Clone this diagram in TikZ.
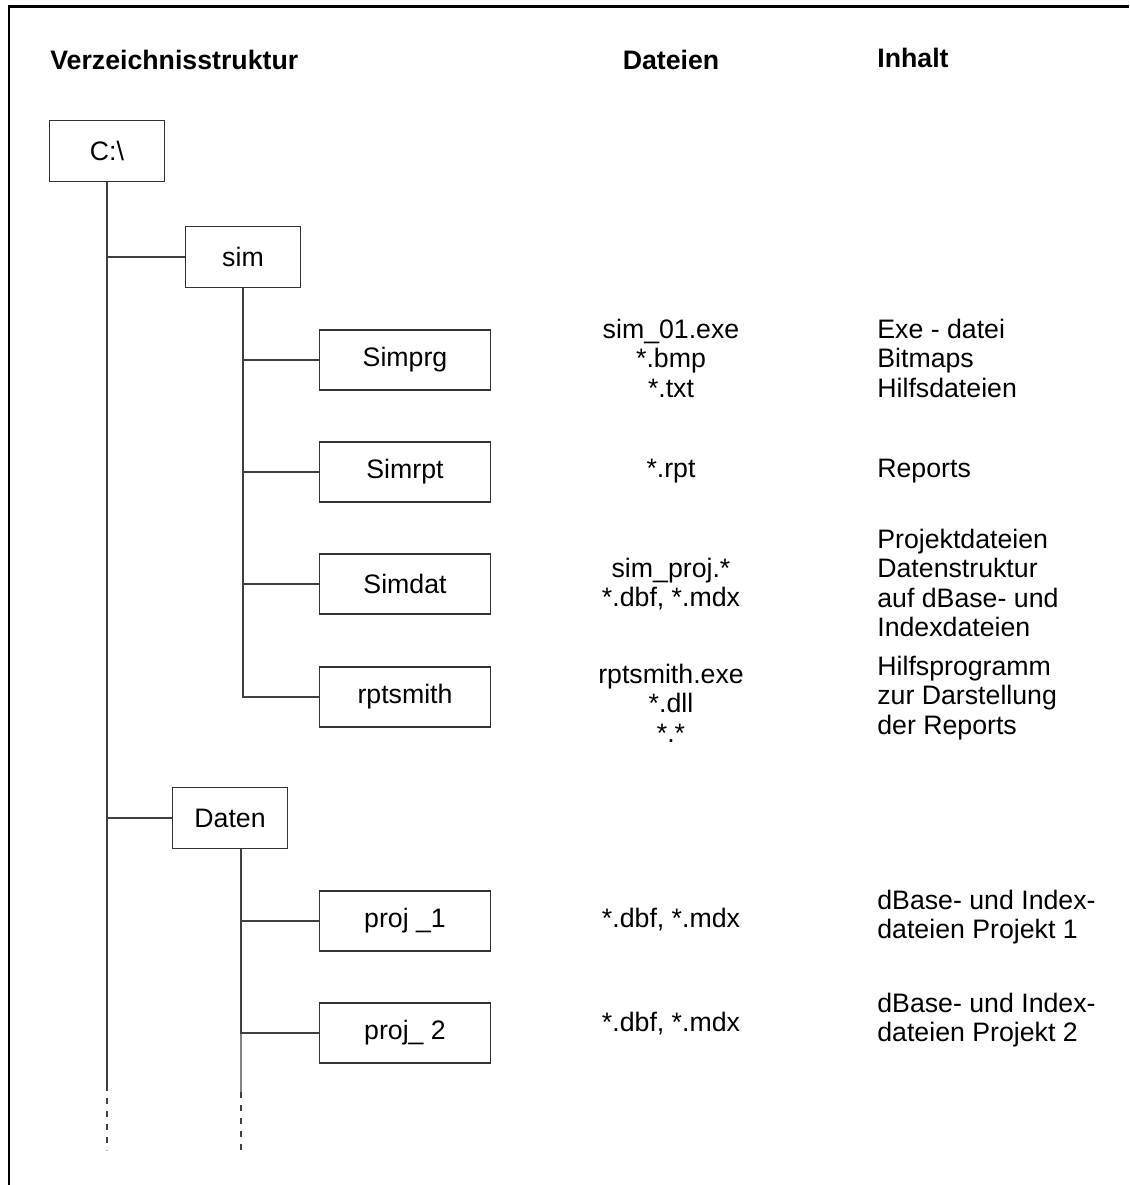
\documentclass[tikz,border=0pt]{standalone}
\usepackage{fontspec}
\setmainfont{Liberation Sans}
\usepackage{tikz}
\usetikzlibrary{positioning,calc}

\begin{document}
\begin{tikzpicture}[
  x=0.02cm, y=-0.02cm,
  dbox/.style={rectangle, draw=black!80, line width=0.6pt,
               minimum width=2.3cm, minimum height=1.22cm,
               font=\fontsize{15.2}{16.8}\selectfont, align=center},
  sbox/.style={dbox, minimum width=3.42cm, minimum height=1.2cm},
  hdr/.style={inner sep=0pt, font=\fontsize{15.2}{16.8}\selectfont\bfseries},
  ftxt/.style={inner sep=0pt, font=\fontsize{15.2}{16.8}\selectfont, align=center},
  itxt/.style={inner sep=0pt, anchor=west, font=\fontsize{15.2}{16.8}\selectfont, align=left},
  tline/.style={draw=black!75, line width=0.7pt},
  dline/.style={draw=black!75, line width=0.7pt, dash pattern=on 0.12cm off 0.14cm}
]
\useasboundingbox (0,0) rectangle (1129,1185);
% Frame (top and left edge)
\draw[line width=1.7pt] (9,1185) -- (9,7) -- (1129,7);

% Headers
\node[hdr, anchor=west] (hdir) at (50,60) {Verzeichnisstruktur};
\node[hdr] (hfiles) at (671,60) {Dateien};
\node[hdr, anchor=west] (hcont) at (877,58) {Inhalt};

% Directory nodes
\node[dbox] (root)  at (107,151) {C:\textbackslash};
\node[dbox] (sim)   at (243,257) {sim};
\node[sbox] (simprg) at (405,360) {Simprg};
\node[sbox] (simrpt) at (405,472) {Simrpt};
\node[sbox] (simdat) at (405,584) {Simdat};
\node[sbox] (rpts)   at (405,697) {rptsmith};
\node[dbox] (daten) at (230,818) {Daten};
\node[sbox] (proja)  at (405,921) {proj \_1};
\node[sbox] (projb)  at (405,1033) {proj\_ 2};

% Free ends of the trunks
\coordinate (rootend)  at (107,1085);
\coordinate (rootdash) at (107,1150);
\coordinate (datentop) at ([xshift=0.22cm]daten.south);
\coordinate (datenend)  at (241,1092);
\coordinate (datendash) at (241,1152);

% Tree lines
\draw[tline] (root.south) -- (rootend);
\draw[dline] (rootend) -- (rootdash);
\draw[tline] (root.south) |- (sim.west);
\draw[tline] (root.south) |- (daten.west);

\draw[tline] (sim.south) |- (simprg.west);
\draw[tline] (sim.south) |- (simrpt.west);
\draw[tline] (sim.south) |- (simdat.west);
\draw[tline] (sim.south) |- (rpts.west);

\draw[tline] (datentop) -- (datenend);
\draw[dline] (datenend) -- (datendash);
\draw[tline] (datentop) |- (proja.west);
\draw[tline] (datentop) |- (projb.west);

% Files
\node[ftxt] (fprg) at (671,358) {sim\_01.exe\\*.bmp\\*.txt};
\node[ftxt] (frpt) at (671,471) {*.rpt};
\node[ftxt] (fdat) at (671,584) {sim\_proj.*\\*.dbf, *.mdx};
\node[ftxt] (fsmi) at (671,703) {rptsmith.exe\\*.dll\\*.*};
\node[ftxt] (fpra) at (671,920) {*.dbf, *.mdx};
\node[ftxt] (fprb) at (671,1024) {*.dbf, *.mdx};

% Contents
\node[itxt] (cprg) at (877,358) {Exe - datei\\Bitmaps\\Hilfsdateien};
\node[itxt] (crpt) at (877,471) {Reports};
\node[itxt] (cdat) at (877,583) {Projektdateien\\Datenstruktur\\auf dBase- und\\Indexdateien};
\node[itxt] (csmi) at (877,698) {Hilfsprogramm\\zur Darstellung\\der Reports};
\node[itxt] (cpra) at (877,917) {dBase- und Index-\\dateien Projekt 1};
\node[itxt] (cprb) at (877,1020) {dBase- und Index-\\dateien Projekt 2};
\end{tikzpicture}
\end{document}
